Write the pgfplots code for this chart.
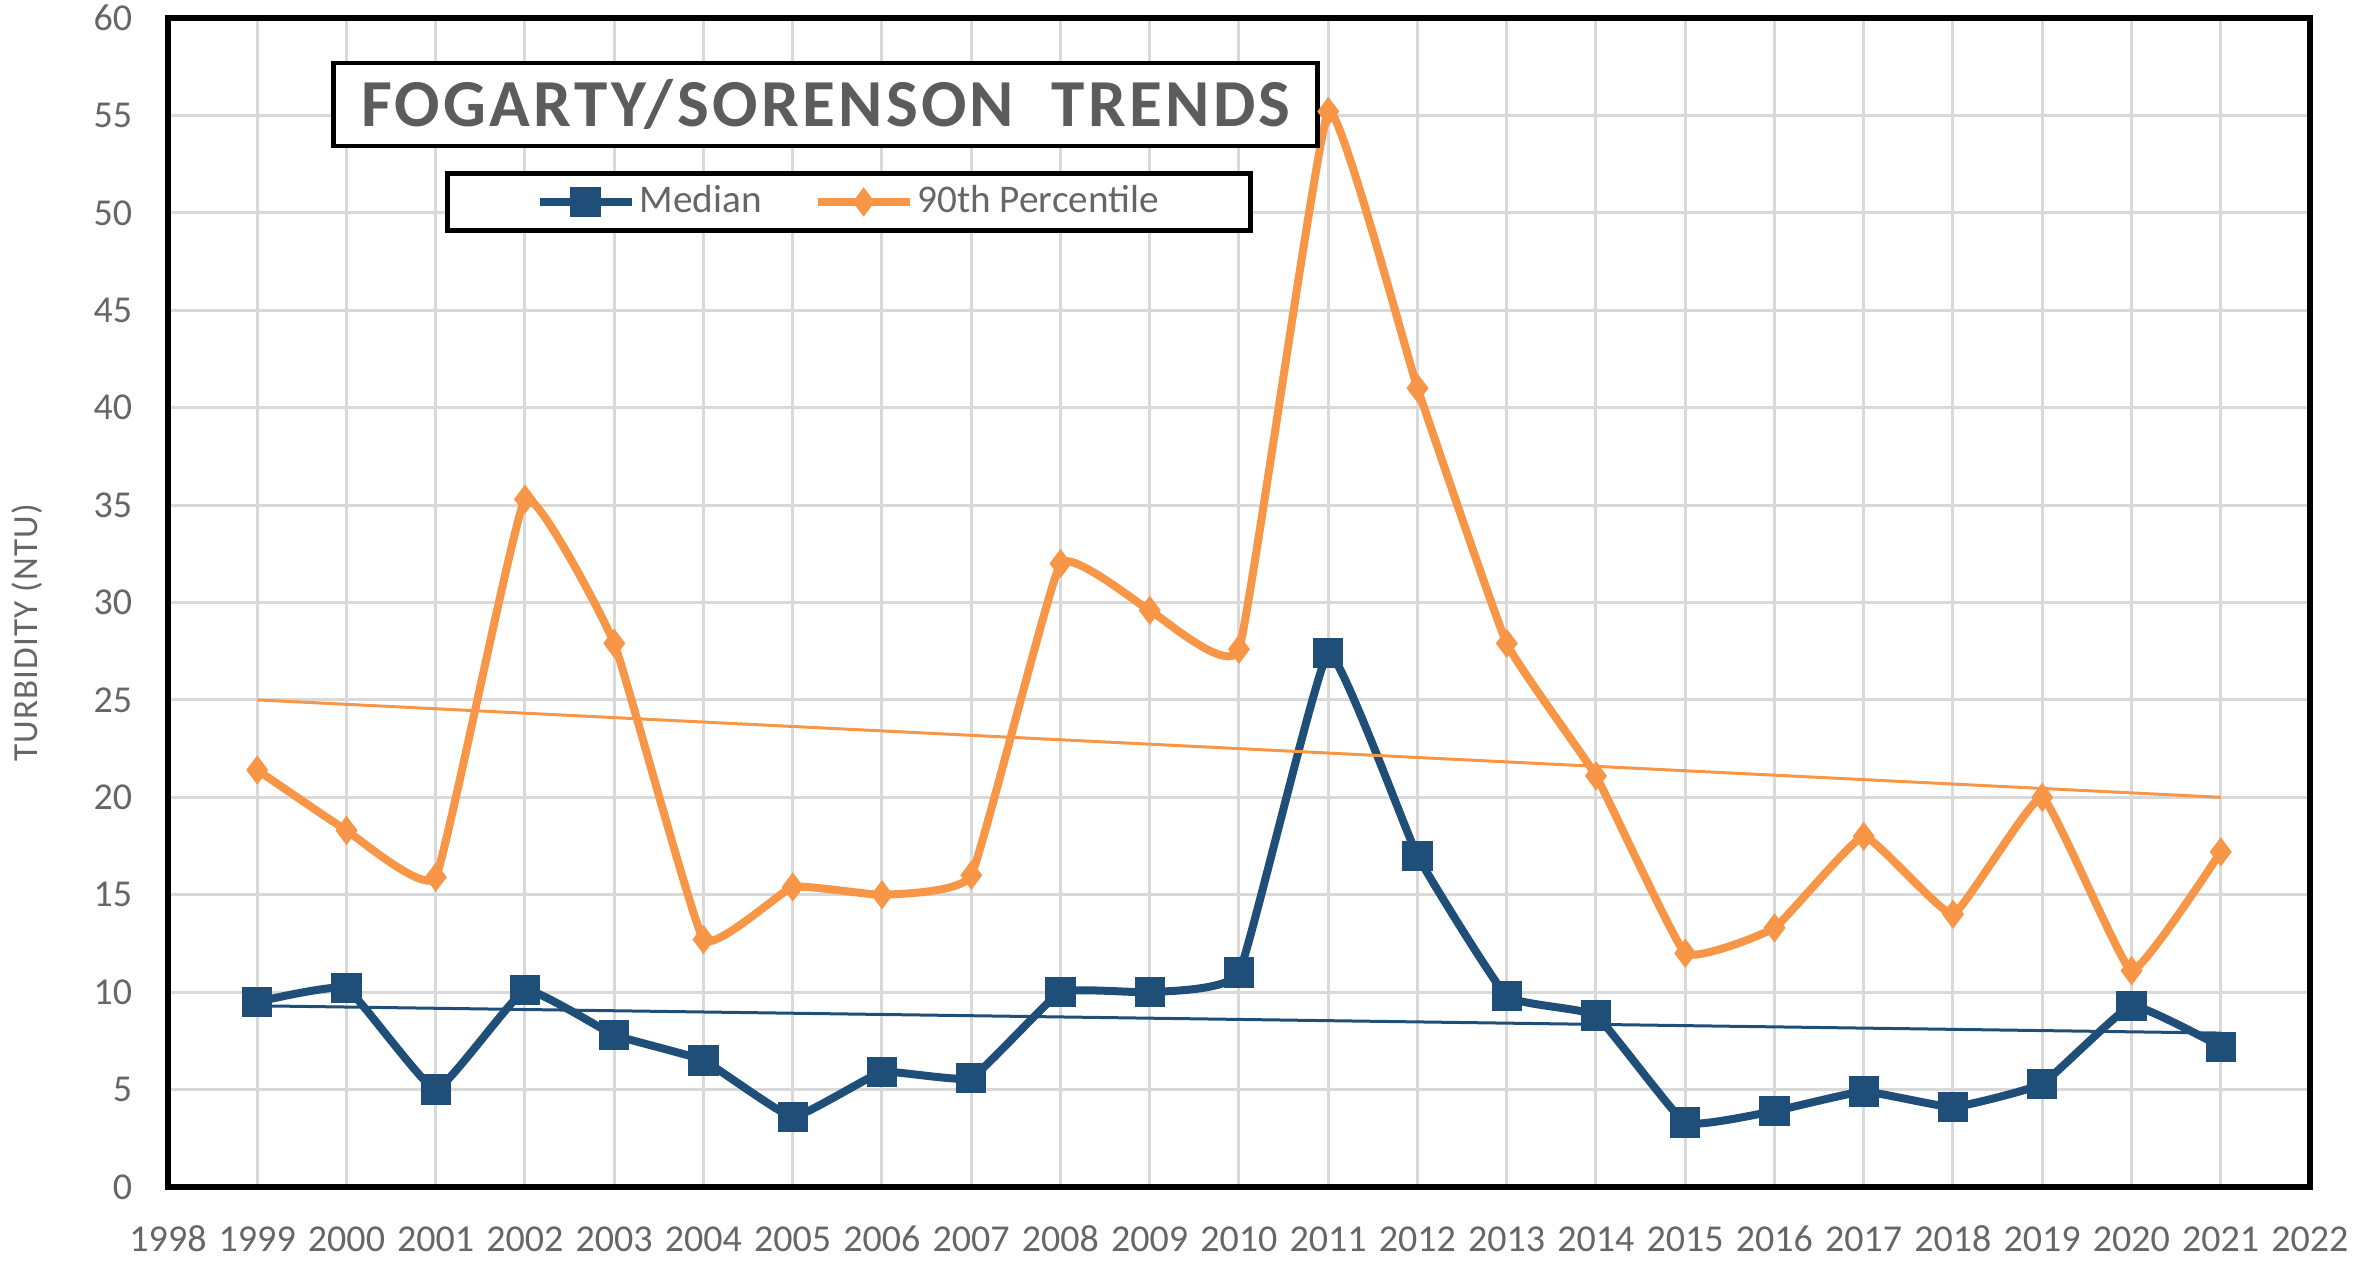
\documentclass[border=0pt]{standalone}
\usepackage{fontspec}
\setmainfont{Carlito}
\newfontfamily\titlefont[LetterSpace=5]{Carlito}
\newfontfamily\ylabfont[LetterSpace=3]{Carlito}
\usepackage{pgfplots}
\pgfplotsset{compat=1.18}
\definecolor{medblue}{HTML}{1F4E79}
\definecolor{pctorange}{HTML}{F79646}
\definecolor{txtgray}{HTML}{666666}
\definecolor{gridgray}{HTML}{D9D9D9}

\pgfplotstableread{
year median pct90
1999 9.5  21.4
2000 10.2 18.3
2001 5.0  15.9
2002 10.1 35.3
2003 7.8  27.9
2004 6.5  12.7
2005 3.6  15.4
2006 5.9  15.0
2007 5.6  16.0
2008 10.0 32.0
2009 10.0 29.6
2010 11.0 27.6
2011 27.4 55.2
2012 17.0 41.0
2013 9.8  27.9
2014 8.8  21.1
2015 3.3  12.0
2016 3.9  13.3
2017 4.9  18.0
2018 4.1  14.0
2019 5.3  20.0
2020 9.3  11.1
2021 7.2  17.2
}\datatable

\begin{document}
\begin{tikzpicture}
\path[use as bounding box] (-42pt,-18.5pt) rectangle (547pt,296.75pt);
\begin{axis}[
  at={(0,0)}, anchor=south west,
  scale only axis,
  width=535.5pt, height=292.25pt,
  xmin=1998, xmax=2022, ymin=0, ymax=60,
  xtick={1998,...,2022},
  ytick={0,5,...,60},
  major tick length=0pt,
  grid=major,
  grid style={gridgray, line width=0.75pt},
  axis line style={black, line width=1.6pt},
  /pgf/number format/assume math mode=true,
  x tick label style={/pgf/number format/1000 sep={}, font=\fontsize{9.5}{11}\selectfont, text=txtgray, anchor=center, yshift=-13pt},
  y tick label style={font=\fontsize{9.5}{11}\selectfont, text=txtgray, anchor=east, inner sep=0pt, xshift=-8.75pt},
  ylabel={TURBIDITY (NTU)},
  ylabel style={at={(axis description cs:-0.0658,0.474)}, anchor=center, font=\ylabfont\fontsize{8.8}{10}\selectfont, text=txtgray},
  legend columns=2,
  legend style={at={(axis description cs:0.318,0.8426)}, anchor=center, draw=black, line width=1.2pt,
    inner xsep=22pt, inner ysep=2pt, font=\fontsize{9.8}{11}\selectfont, text=txtgray,
    nodes={inner sep=1pt}, /tikz/every even column/.append style={column sep=12pt}},
  legend image code/.code={\draw[mark repeat=2,mark phase=2,#1] plot coordinates {(0pt,0pt) (11.5pt,0pt) (23pt,0pt)};},
]
\addplot[medblue, line width=2pt, smooth, tension=0.2, mark=square*, mark size=2.8pt, mark options={solid}] table[x=year,y=median] {\datatable};
\addlegendentry{Median}
\addplot[pctorange, line width=2pt, smooth, tension=0.2, mark=diamond*, mark size=2pt, mark options={solid}] table[x=year,y=pct90] {\datatable};
\addlegendentry{90th Percentile}
\addplot[pctorange, line width=0.75pt, forget plot] coordinates {(1999,25.0) (2021,20.0)};
\addplot[medblue, line width=0.75pt, forget plot] coordinates {(1999,9.3) (2021,7.9)};
\node[draw=black, line width=1.2pt, fill=white, minimum width=246pt, minimum height=20.75pt, inner sep=0pt,
  font=\titlefont\bfseries\fontsize{16.8}{19}\selectfont, text=txtgray!90!black]
  at (rel axis cs:0.3071,0.926) {FOGARTY/SORENSON\ \ TRENDS};
\end{axis}
\end{tikzpicture}
\end{document}
